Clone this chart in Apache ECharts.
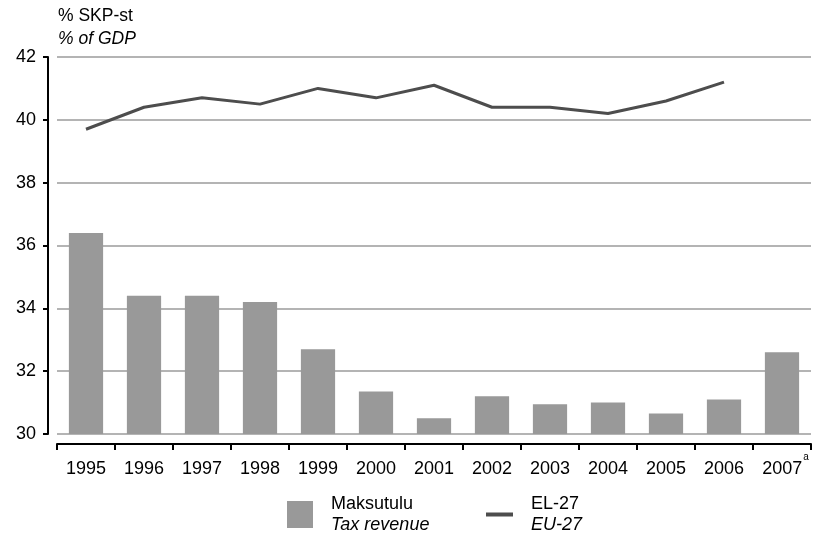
<!DOCTYPE html>
<html>
<head>
<meta charset="utf-8">
<script src="https://cdn.jsdelivr.net/npm/echarts@6/dist/echarts.min.js"></script>
<style>html,body{margin:0;padding:0;background:#fff}#c{width:813px;height:536px}</style>
</head>
<body>
<div id="c"></div>
<script>
const years = ['1995','1996','1997','1998','1999','2000','2001','2002','2003','2004','2005','2006','2007'];
const taxRevenue = [36.4, 34.4, 34.4, 34.2, 32.7, 31.35, 30.5, 31.2, 30.95, 31.0, 30.65, 31.1, 32.6];
const eu27 = [39.7, 40.4, 40.7, 40.5, 41.0, 40.7, 41.1, 40.4, 40.4, 40.2, 40.6, 41.2, null];
const yTicks = [30, 32, 34, 36, 38, 40, 42];
const footnoteYear = '2007';
const footnoteMark = 'a';

const FONT = 'Liberation Sans, Arial, sans-serif';
const FS = 18;
const chart = echarts.init(document.getElementById('c'));
const legendText = {
  fontFamily: FONT, fontSize: FS, color: '#000', padding: [0, 0, 0, 13],
  rich: {
    a: {fontFamily: FONT, fontSize: FS, color: '#000', lineHeight: 21},
    b: {fontFamily: FONT, fontSize: FS, color: '#000', fontStyle: 'italic', lineHeight: 21}
  }
};
chart.setOption({
  animation: false,
  textStyle: {fontFamily: FONT},
  grid: {left: 57, right: 2, top: 57, bottom: 102, containLabel: false},
  graphic: [
    {type: 'text', left: 58, top: 7, style: {text: '% SKP-st', fontFamily: FONT, fontSize: 17.5, fill: '#000'}},
    {type: 'text', left: 58, top: 30, style: {text: '% of GDP', fontFamily: FONT, fontSize: 17.5, fontStyle: 'italic', fill: '#000'}}
  ],
  legend: [
    {data: ['Maksutulu'], left: 287, top: 495, padding: 0, itemWidth: 26, itemHeight: 27, icon: 'rect',
     formatter: () => '{a|Maksutulu}\n{b|Tax revenue}', textStyle: legendText, selectedMode: false},
    {data: ['EL-27'], left: 486, top: 495, padding: 0, itemWidth: 27, itemHeight: 4, icon: 'rect',
     formatter: () => '{a|EL-27}\n{b|EU-27}', textStyle: legendText, selectedMode: false}
  ],
  xAxis: {
    type: 'category', data: years, offset: 10,
    axisLine: {lineStyle: {color: '#000', width: 2}},
    axisTick: {show: true, inside: false, interval: 0, alignWithLabel: false, length: 6, lineStyle: {color: '#000', width: 2}},
    axisLabel: {
      margin: 8, fontFamily: FONT, fontSize: FS, color: '#000', interval: 0,
      formatter: (v) => v === footnoteYear ? '{y2|' + v + '}{s|' + footnoteMark + '}' : '{y|' + v + '}',
      rich: {y: {fontFamily: FONT, fontSize: FS, color: '#000', lineHeight: 34},
             y2: {fontFamily: FONT, fontSize: FS, color: '#000', lineHeight: 34, padding: [0, 0, 0, 7]},
             s: {fontFamily: FONT, fontSize: 10, color: '#000', verticalAlign: 'top', lineHeight: 12, padding: [0, 0, 0, 1]}}
    },
    splitLine: {show: false}
  },
  yAxis: {
    type: 'value', min: 30, max: 42, interval: 2, offset: 9,
    axisLine: {show: true, lineStyle: {color: '#000', width: 2}},
    axisTick: {show: true, length: 5, lineStyle: {color: '#000', width: 2}},
    axisLabel: {margin: 12, fontFamily: FONT, fontSize: FS, color: '#000',
      formatter: (v) => yTicks.includes(v) ? String(v) : ''},
    splitLine: {show: true, lineStyle: {color: '#b4b4b4', width: 2}}
  },
  series: [
    {name: 'Maksutulu', type: 'bar', data: taxRevenue, barCategoryGap: '41%',
     itemStyle: {color: '#999999'}, z: 2},
    {name: 'EL-27', type: 'line', data: eu27, symbol: 'none', connectNulls: false,
     lineStyle: {color: '#4d4d4d', width: 3}, itemStyle: {color: '#4d4d4d'}, z: 3}
  ]
});
</script>
</body>
</html>
